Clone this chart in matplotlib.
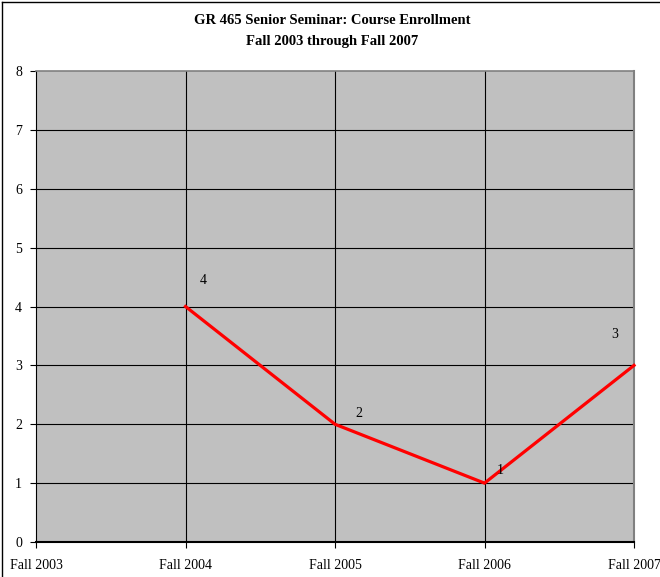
import matplotlib.pyplot as plt
from matplotlib.lines import Line2D

semesters = ["Fall 2003", "Fall 2004", "Fall 2005", "Fall 2006", "Fall 2007"]
enrollment = [None, 4, 2, 1, 3]

# label offsets in points (dx, dy), as Excel placed them
label_offsets = [None, (13, 19), (17, 8), (11, 9), (-14, 22)]

plt.rcParams['font.family'] = ['Liberation Serif', 'DejaVu Serif']

fig = plt.figure(figsize=(6.6, 5.77), dpi=100)
ax = fig.add_axes([36 / 660, 35 / 577, 598 / 660, 471 / 577])
ax.set_facecolor("#C0C0C0")

xs = [i for i, v in enumerate(enrollment) if v is not None]
ys = [v for v in enrollment if v is not None]
ax.plot(xs, ys, color="red", linewidth=2.3, solid_joinstyle="miter", zorder=3, clip_on=False)

for x, y, off in zip(xs, ys, [o for o in label_offsets if o is not None]):
    ax.annotate(str(y), (x, y), xytext=off, textcoords="offset points",
                ha="center", va="center", fontsize=10)

ax.set_xlim(0, len(semesters) - 1)
ax.set_ylim(0, 8)
ax.set_xticks(range(len(semesters)))
ax.set_xticklabels(semesters)
ax.set_yticks(range(0, 9))
ax.tick_params(axis="y", direction="out", length=4, labelsize=10, pad=6)
ax.tick_params(axis="x", direction="out", length=4, labelsize=10, pad=8)

for y in range(1, 8):
    ax.axhline(y, color="black", linewidth=0.8, zorder=1)
for x in range(1, len(semesters) - 1):
    ax.axvline(x, color="black", linewidth=0.8, zorder=1)

ax.spines["left"].set_color("black")
ax.spines["bottom"].set_color("black")
ax.spines["bottom"].set_linewidth(1.5)
ax.spines["top"].set_color("#808080")
ax.spines["right"].set_color("#808080")
ax.spines["top"].set_linewidth(1.2)
ax.spines["right"].set_linewidth(1.5)

fig.text(0.503, 1 - 20 / 577, "GR 465 Senior Seminar: Course Enrollment",
         ha="center", va="center", fontsize=10.5, fontweight="bold")
fig.text(0.503, 1 - 42 / 577, "Fall 2003 through Fall 2007",
         ha="center", va="center", fontsize=10.5, fontweight="bold")

# outer chart border
fig.add_artist(Line2D([2 / 660, 2 / 660], [0, 1 - 2 / 577], color="black", linewidth=1))
fig.add_artist(Line2D([2 / 660, 1], [1 - 2 / 577, 1 - 2 / 577], color="black", linewidth=1))

fig.savefig("out.png", dpi=100)
